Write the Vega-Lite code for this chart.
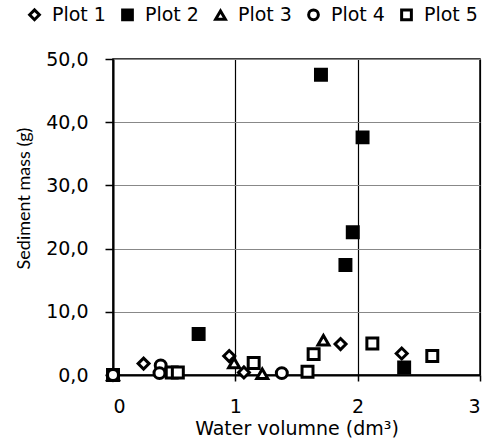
{
  "$schema": "https://vega.github.io/schema/vega-lite/v6.json",
  "width": 367,
  "height": 316,
  "autosize": "none",
  "padding": {"left": 113, "top": 59, "right": 22, "bottom": 68},
  "config": {
    "font": "DejaVu Sans",
    "locale": {"number": {"decimal": ",", "thousands": ".", "grouping": [3], "currency": ["", "€"]}},
    "view": {"stroke": "black", "strokeWidth": 1.5},
    "axis": {"labelFont": "DejaVu Sans", "titleFont": "DejaVu Sans", "labelColor": "black", "titleColor": "black", "titleFontWeight": "normal", "domainColor": "black", "tickColor": "black", "domainWidth": 2, "tickWidth": 1.5},
    "legend": {"labelFont": "DejaVu Sans", "labelFontWeight": "normal"}
  },
  "data": {
    "values": [
      {"series": "Plot 1", "x": 0, "y": 0},
      {"series": "Plot 1", "x": 0.25, "y": 1.8},
      {"series": "Plot 1", "x": 0.95, "y": 3.0},
      {"series": "Plot 1", "x": 1.07, "y": 0.4},
      {"series": "Plot 1", "x": 1.86, "y": 4.9},
      {"series": "Plot 1", "x": 2.36, "y": 3.4},
      {"series": "Plot 2", "x": 0, "y": 0},
      {"series": "Plot 2", "x": 0.70, "y": 6.5},
      {"series": "Plot 2", "x": 1.70, "y": 47.5},
      {"series": "Plot 2", "x": 1.90, "y": 17.4},
      {"series": "Plot 2", "x": 1.96, "y": 22.6},
      {"series": "Plot 2", "x": 2.04, "y": 37.6},
      {"series": "Plot 2", "x": 2.38, "y": 1.2},
      {"series": "Plot 3", "x": 0, "y": 0},
      {"series": "Plot 3", "x": 0.99, "y": 1.9},
      {"series": "Plot 3", "x": 1.22, "y": 0.2},
      {"series": "Plot 3", "x": 1.72, "y": 5.5},
      {"series": "Plot 4", "x": 0, "y": 0},
      {"series": "Plot 4", "x": 0.39, "y": 1.5},
      {"series": "Plot 4", "x": 0.38, "y": 0.3},
      {"series": "Plot 4", "x": 1.38, "y": 0.3},
      {"series": "Plot 5", "x": 0.48, "y": 0.4},
      {"series": "Plot 5", "x": 0.53, "y": 0.4},
      {"series": "Plot 5", "x": 1.15, "y": 1.9},
      {"series": "Plot 5", "x": 1.59, "y": 0.5},
      {"series": "Plot 5", "x": 1.64, "y": 3.3},
      {"series": "Plot 5", "x": 2.12, "y": 5.0},
      {"series": "Plot 5", "x": 2.61, "y": 3.0}
    ]
  },
  "mark": {"type": "point", "filled": true, "stroke": "black", "strokeWidth": 3, "size": 120, "opacity": 1},
  "encoding": {
    "x": {
      "field": "x", "type": "quantitative",
      "scale": {"domain": [0, 3], "nice": false},
      "axis": {"values": [0, 1, 2, 3], "format": "d", "grid": true, "gridColor": "black", "gridWidth": 1.2, "gridOpacity": 1, "tickSize": 6, "labelFontSize": 19, "labelPadding": 16, "title": "Water volumne (dm³)", "titleFontSize": 19, "titlePadding": 3}
    },
    "y": {
      "field": "y", "type": "quantitative",
      "scale": {"domain": [0, 50], "nice": false},
      "axis": {"values": [0, 10, 20, 30, 40, 50], "format": ".1f", "grid": true, "gridColor": "#888888", "gridWidth": 1, "gridOpacity": 1, "tickSize": 8, "labelFontSize": 19, "labelPadding": 17, "title": "Sediment mass (g)", "titleFont": "Lato", "titleFontSize": 18, "titleX": -80, "titleY": 139}
    },
    "shape": {
      "field": "series", "type": "nominal",
      "scale": {"domain": ["Plot 1", "Plot 2", "Plot 3", "Plot 4", "Plot 5"], "range": ["diamond", "square", "triangle-up", "circle", "square"]},
      "legend": {"title": null, "orient": "none", "legendX": -88, "legendY": -54, "padding": 0, "direction": "horizontal", "labelFontSize": 19, "labelColor": "black", "symbolStrokeColor": "black", "symbolStrokeWidth": 3, "symbolSize": 95, "columnPadding": 10, "labelOffset": 8, "symbolOpacity": 1, "encode": {"symbols": {"update": {"stroke": {"value": "black"}, "strokeWidth": {"value": 3}, "opacity": {"value": 1}}}}}
    },
    "fill": {
      "field": "series", "type": "nominal",
      "scale": {"domain": ["Plot 1", "Plot 2", "Plot 3", "Plot 4", "Plot 5"], "range": ["white", "black", "white", "white", "white"]},
      "legend": {"title": null, "orient": "none", "legendX": -88, "legendY": -54, "padding": 0, "direction": "horizontal", "labelFontSize": 19, "labelColor": "black", "symbolStrokeColor": "black", "symbolStrokeWidth": 3, "symbolSize": 95, "columnPadding": 10, "labelOffset": 8, "symbolOpacity": 1, "encode": {"symbols": {"update": {"stroke": {"value": "black"}, "strokeWidth": {"value": 3}, "opacity": {"value": 1}}}}}
    }
  }
}
